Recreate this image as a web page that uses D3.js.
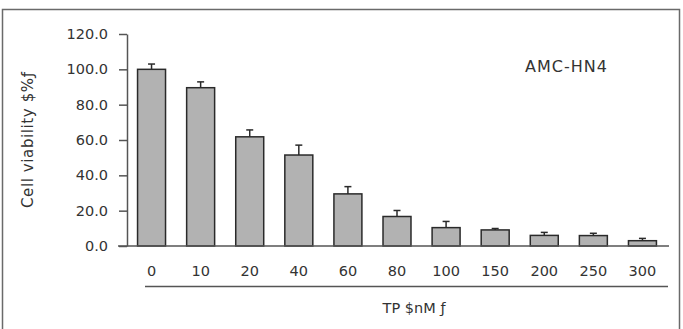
<!DOCTYPE html>
<html>
<head>
<meta charset="utf-8">
<script src="https://cdn.jsdelivr.net/npm/d3@7"></script>
<style>
  html, body { margin: 0; padding: 0; background: #fff; }
  svg { display: block; font-family: 'DejaVu Sans', sans-serif; }
</style>
</head>
<body>
<svg id="chart"></svg>
<script>
const doses = ['0', '10', '20', '40', '60', '80', '100', '150', '200', '250', '300']
const viability = [100, 89.6, 61.8, 51.5, 29.5, 16.7, 10.4, 9.1, 6.0, 5.9, 3.0]
const errors = [3.0, 3.3, 3.9, 5.6, 4.1, 3.4, 3.5, 0.8, 1.7, 1.3, 1.3]
const yTicks = [0, 20, 40, 60, 80, 100, 120]

const width = 683
const height = 329

const svg = d3.select('#chart')
  .attr('width', width)
  .attr('height', height)

// outer frame (bottom edge runs off the picture)
svg.append('rect')
  .attr('x', 2.5)
  .attr('y', 9.5)
  .attr('width', 677)
  .attr('height', 340)
  .attr('fill', 'none')
  .attr('stroke', '#6a6a6a')
  .attr('stroke-width', 1.5)

const x = d3.scaleBand()
  .domain(doses)
  .range([127, 667])
  .paddingInner(0.43)
  .paddingOuter(0.215)

const y = d3.scaleLinear()
  .domain([0, 120])
  .range([246, 34])

// y axis
const yAxis = svg.append('g')
  .attr('transform', 'translate(127,0)')
  .call(d3.axisLeft(y).tickValues(yTicks).tickFormat(d3.format('.1f')).tickSize(8).tickSizeOuter(0))
yAxis.select('.domain').attr('stroke', '#555').attr('stroke-width', 1.5)
yAxis.selectAll('.tick line').attr('stroke', '#555').attr('stroke-width', 1.5)
yAxis.selectAll('.tick text')
  .attr('x', -19)
  .attr('fill', '#333')
  .attr('font-size', 14.5)
  .attr('font-family', 'DejaVu Sans, sans-serif')

// bars
svg.selectAll('.bar')
  .data(doses)
  .enter().append('rect')
  .attr('class', 'bar')
  .attr('x', d => x(d))
  .attr('y', (d, i) => y(viability[i]))
  .attr('width', x.bandwidth())
  .attr('height', (d, i) => y(0) - y(viability[i]))
  .attr('fill', '#b2b2b2')
  .attr('stroke', '#2a2a2a')
  .attr('stroke-width', 1.5)

// upper error bars
const err = svg.selectAll('.err')
  .data(doses)
  .enter().append('g')
  .attr('class', 'err')
  .attr('stroke', '#2a2a2a')
  .attr('stroke-width', 1.5)

err.append('line')
  .attr('x1', d => x(d) + x.bandwidth() / 2)
  .attr('x2', d => x(d) + x.bandwidth() / 2)
  .attr('y1', (d, i) => y(viability[i]))
  .attr('y2', (d, i) => y(viability[i] + errors[i]))

err.append('line')
  .attr('x1', d => x(d) + x.bandwidth() / 2 - 3.5)
  .attr('x2', d => x(d) + x.bandwidth() / 2 + 3.5)
  .attr('y1', (d, i) => y(viability[i] + errors[i]))
  .attr('y2', (d, i) => y(viability[i] + errors[i]))

// x baseline
svg.append('line')
  .attr('x1', 118)
  .attr('x2', 669)
  .attr('y1', y(0))
  .attr('y2', y(0))
  .attr('stroke', '#555')
  .attr('stroke-width', 1.5)

// x tick labels
svg.selectAll('.xlab')
  .data(doses)
  .enter().append('text')
  .attr('class', 'xlab')
  .attr('x', d => x(d) + x.bandwidth() / 2)
  .attr('y', 275.5)
  .attr('text-anchor', 'middle')
  .attr('font-size', 14.5)
  .attr('fill', '#333')
  .text(d => d)

// line under the dose labels
svg.append('line')
  .attr('x1', 145)
  .attr('x2', 668)
  .attr('y1', 286.5)
  .attr('y2', 286.5)
  .attr('stroke', '#555')
  .attr('stroke-width', 1.5)

// axis titles
svg.append('text')
  .attr('x', 414)
  .attr('y', 313)
  .attr('text-anchor', 'middle')
  .attr('font-size', 14.5)
  .attr('fill', '#333')
  .attr('textLength', 63)
  .text('TP $nM ƒ')

svg.append('text')
  .attr('transform', 'translate(33,140) rotate(-90)')
  .attr('text-anchor', 'middle')
  .attr('font-size', 15)
  .attr('fill', '#333')
  .attr('textLength', 136)
  .text('Cell viability $%ƒ')

svg.append('text')
  .attr('x', 566)
  .attr('y', 72)
  .attr('text-anchor', 'middle')
  .attr('font-size', 16)
  .attr('fill', '#333')
  .attr('textLength', 82)
  .text('AMC-HN4')
</script>
</body>
</html>
